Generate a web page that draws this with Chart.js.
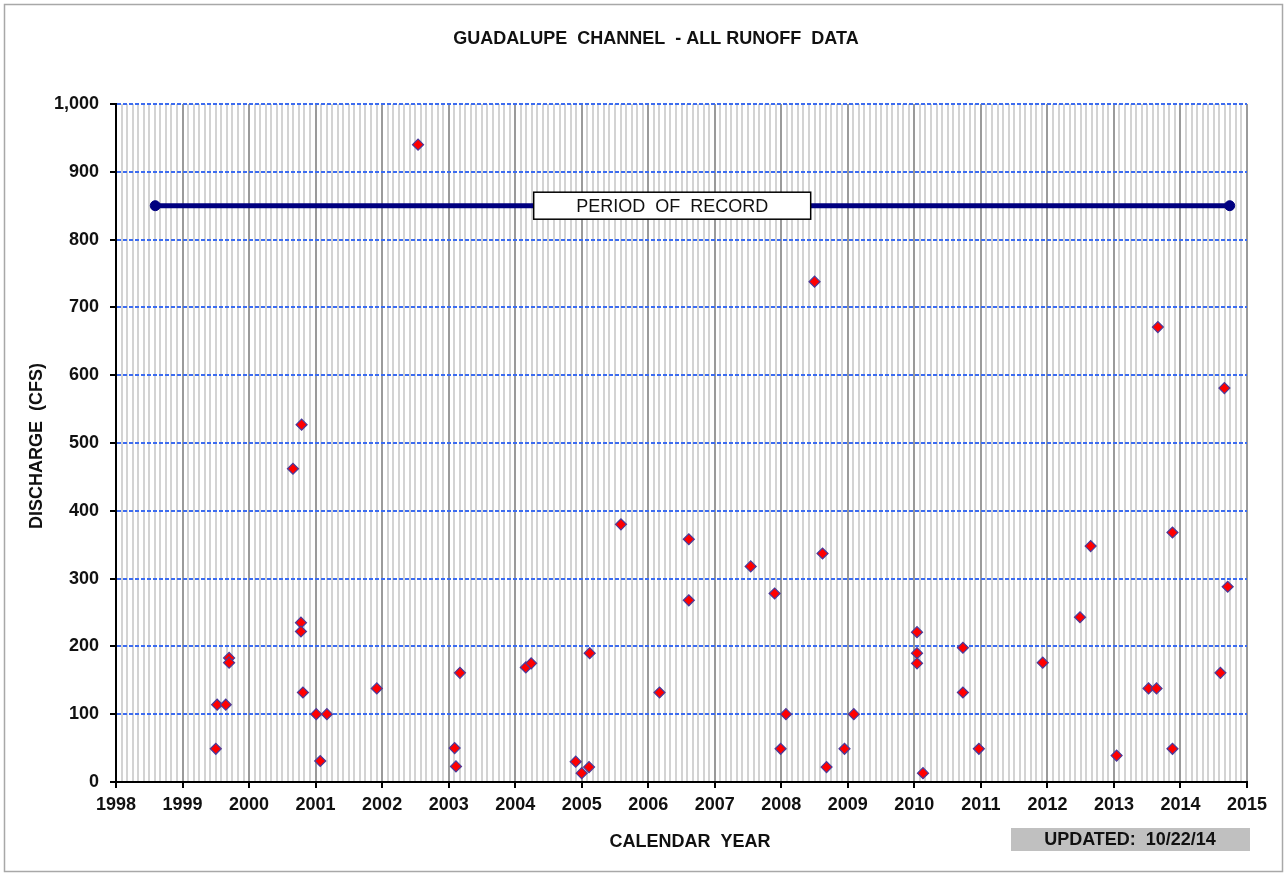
<!DOCTYPE html>
<html>
<head>
<meta charset="utf-8">
<title>Guadalupe Channel - All Runoff Data</title>
<script src="https://cdn.jsdelivr.net/npm/chart.js@4.4.1/dist/chart.umd.min.js"></script>
<style>
  html, body { margin: 0; padding: 0; background: #fff; }
  canvas { display: block; }
</style>
</head>
<body>
<canvas id="runoffChart" width="1286" height="875"></canvas>
<script>
// runoff events: decimal year of the event and peak discharge in cfs
const eventYears = [
  1999.50, 1999.52, 1999.65, 1999.70, 1999.70, 2000.66, 2000.79, 2000.78, 2000.78, 2000.81,
  2001.01, 2001.17, 2001.07, 2001.92, 2002.54, 2003.09, 2003.11, 2003.17, 2004.16, 2004.24,
  2004.91, 2005.00, 2005.11, 2005.12, 2005.59, 2006.17, 2006.61, 2006.61, 2007.54, 2007.90,
  2007.99, 2008.07, 2008.50, 2008.62, 2008.68, 2008.95, 2009.09, 2010.04, 2010.04, 2010.04,
  2010.13, 2010.73, 2010.73, 2010.97, 2011.93, 2012.49, 2012.65, 2013.04, 2013.52, 2013.64,
  2013.66, 2013.88, 2013.88, 2014.60, 2014.66, 2014.71
];
const dischargeCfs = [
  49, 114, 114, 183, 176, 462, 527, 235, 222, 132,
  100, 100, 31, 138, 940, 50, 23, 161, 169, 175,
  30, 13, 22, 190, 380, 132, 358, 268, 318, 278,
  49, 100, 738, 337, 22, 49, 100, 221, 190, 175,
  13, 132, 198, 49, 176, 243, 348, 39, 138, 138,
  671, 368, 49, 161, 581, 288
];

// period of record bar
const recordYears = [1998.59, 2014.74];
const recordLevel = 850;
const recordLabelYear = 2006.36;

const yearMin = 1998;
const yearMax = 2015;

const FONT = '"Liberation Sans", Arial, sans-serif';

const isYear = (v) => Math.abs(v - Math.round(v)) < 1e-6;

// titles, label boxes and the outer frame
const decorations = {
  id: 'decorations',
  beforeDraw(chart) {
    const c = chart.ctx;
    c.save();
    c.fillStyle = '#fff';
    c.fillRect(0, 0, chart.width, chart.height);
    c.strokeStyle = '#a8a8a8';
    c.lineWidth = 1.5;
    c.strokeRect(4.5, 4.5, chart.width - 8, chart.height - 8);

    c.fillStyle = '#111';
    c.textAlign = 'center';
    c.textBaseline = 'middle';
    c.font = 'bold 18px ' + FONT;
    c.fillText('GUADALUPE  CHANNEL  - ALL RUNOFF  DATA', 656, 39);
    c.fillText('CALENDAR  YEAR', 690, 842);

    c.save();
    c.translate(37, 446);
    c.rotate(-Math.PI / 2);
    c.fillText('DISCHARGE  (CFS)', 0, 0);
    c.restore();

    c.fillStyle = '#c0c0c0';
    c.fillRect(1011, 828, 239, 23);
    c.fillStyle = '#111';
    c.fillText('UPDATED:  10/22/14', 1130, 840);
    c.restore();
  },
  afterDatasetsDraw(chart) {
    const c = chart.ctx;
    const xs = chart.scales.x;
    const ys = chart.scales.y;
    const cx = xs.getPixelForValue(recordLabelYear);
    const cy = ys.getPixelForValue(recordLevel);
    const w = 277, h = 27;
    c.save();
    c.fillStyle = '#fff';
    c.fillRect(cx - w / 2, cy - h / 2, w, h);
    c.strokeStyle = '#000';
    c.lineWidth = 1.5;
    c.strokeRect(cx - w / 2, cy - h / 2, w, h);
    c.fillStyle = '#111';
    c.font = '18px ' + FONT;
    c.textAlign = 'center';
    c.textBaseline = 'middle';
    c.fillText('PERIOD  OF  RECORD', cx, cy + 1);
    c.restore();
  }
};

const data = {
  datasets: [
    {
      type: 'line',
      label: 'Period of record',
      data: recordYears.map((x) => ({ x, y: recordLevel })),
      borderColor: '#000080',
      backgroundColor: '#000080',
      borderWidth: 5,
      pointRadius: 5,
      pointBorderWidth: 1,
      pointStyle: 'circle'
    },
    {
      type: 'scatter',
      label: 'Runoff events',
      data: eventYears.map((x, i) => ({ x, y: dischargeCfs[i] })),
      pointStyle: 'rectRot',
      pointRadius: 5.5,
      backgroundColor: '#ff0000',
      borderColor: '#4a3a9a',
      borderWidth: 1.2
    }
  ]
};

const options = {
  responsive: false,
  animation: false,
  locale: 'en-US',
  layout: { padding: { left: 0, right: 39, top: 104, bottom: 0 } },
  plugins: {
    legend: { display: false },
    tooltip: { enabled: false }
  },
  scales: {
    x: {
      type: 'linear',
      min: yearMin,
      max: yearMax,
      afterFit: (scale) => { scale.height = 93; },
      ticks: {
        stepSize: 1 / 12,
        autoSkip: false,
        maxRotation: 0,
        padding: 6,
        color: '#111',
        font: { family: FONT, size: 18, weight: 'bold' },
        // monthly ticks only carry a grid line, labels go on whole years
        callback: (v) => isYear(v) ? String(Math.round(v)) : ''
      },
      grid: {
        color: (ctx) => ctx.tick && isYear(ctx.tick.value) ? '#9a9a9a' : '#d3d3d3',
        lineWidth: 2,
        tickLength: 6,
        tickColor: (ctx) => ctx.tick && isYear(ctx.tick.value) ? '#000' : 'rgba(0,0,0,0)',
        tickWidth: 2
      },
      border: { display: true, color: '#000', width: 2 }
    },
    y: {
      min: 0,
      max: 1000,
      afterFit: (scale) => { scale.width = 116; },
      ticks: {
        stepSize: 100,
        padding: 11,
        color: '#111',
        font: { family: FONT, size: 18, weight: 'bold' }
      },
      grid: {
        color: (ctx) => ctx.tick && ctx.tick.value === 0 ? 'rgba(0,0,0,0)' : '#3c6cf0',
        lineWidth: 2,
        tickLength: 6,
        tickColor: '#000',
        tickWidth: 2
      },
      border: { display: true, color: '#000', width: 2, dash: [4, 2] }
    }
  }
};

const runoffChart = new Chart(document.getElementById('runoffChart'), {
  type: 'scatter',
  data,
  options,
  plugins: [decorations]
});
</script>
</body>
</html>
